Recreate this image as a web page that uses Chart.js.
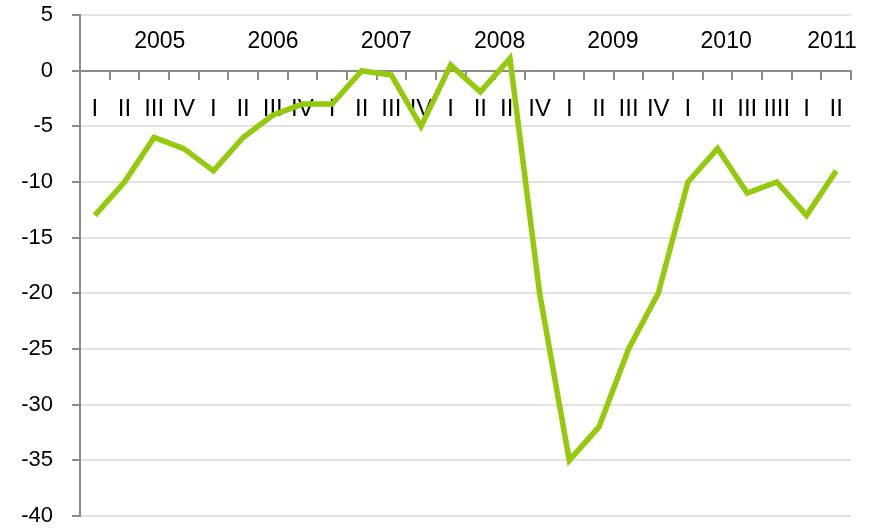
<!DOCTYPE html>
<html>
<head>
<meta charset="utf-8">
<style>
  html, body { margin: 0; padding: 0; background: #fff; }
  #wrap { width: 873px; height: 528px; }
</style>
<script src="https://cdn.jsdelivr.net/npm/chart.js@4/dist/chart.umd.min.js"></script>
</head>
<body>
<div id="wrap"><canvas id="chart"></canvas></div>
<script>
// Quarter labels (2010 Q4 is spelled "IIII" in the original)
const quarters = [
  'I', 'II', 'III', 'IV',
  'I', 'II', 'III', 'IV',
  'I', 'II', 'III', 'IV',
  'I', 'II', 'III', 'IV',
  'I', 'II', 'III', 'IV',
  'I', 'II', 'III', 'IIII',
  'I', 'II'
];
const years = ['2005', '2006', '2007', '2008', '2009', '2010', '2011'];
const values = [
  -13, -10, -6, -7,
  -9, -6, -4, -3,
  -3, 0, -0.4, -5,
  0.5, -1.9, 1.1, -20,
  -35, -32, -25, -20,
  -10, -7, -11, -10,
  -13, -9
];
const yTicks = [5, 0, -5, -10, -15, -20, -25, -30, -35, -40];

const FONT = 'Liberation Sans, Arial, sans-serif';

// Year captions sit above the axis line, a bit right of each year's block
const yearLabels = {
  id: 'yearLabels',
  afterDatasetsDraw(chart) {
    const { ctx, scales: { x, y } } = chart;
    const start = 2.19, step = 3.82;
    ctx.save();
    ctx.font = '23px ' + FONT;
    ctx.fillStyle = '#000';
    ctx.textAlign = 'center';
    ctx.textBaseline = 'middle';
    years.forEach((yr, i) => {
      let pos = start + step * i;
      if (i === years.length - 1) pos = 24.86;
      ctx.fillText(yr, x.getPixelForValue(pos), y.getPixelForValue(2.62));
    });
    ctx.restore();
  }
};

new Chart(document.getElementById('chart'), {
  type: 'line',
  data: {
    labels: quarters,
    datasets: [{
      data: values,
      borderColor: '#93ca0c',
      borderWidth: 5.5,
      pointRadius: 0,
      tension: 0,
      fill: false
    }]
  },
  options: {
    responsive: true,
    maintainAspectRatio: false,
    animation: false,
    layout: { padding: { top: 15, right: 22, bottom: 12, left: 0 } },
    plugins: { legend: { display: false }, tooltip: { enabled: false } },
    scales: {
      x: {
        type: 'category',
        offset: true,
        position: { y: 0 },
        afterFit: s => { s.paddingLeft = 0; s.paddingRight = 0; },
        grid: {
          offset: true,
          drawOnChartArea: false,
          drawTicks: true,
          tickLength: 8,
          tickColor: '#8c8c8c',
          lineWidth: 2
        },
        border: { display: true, color: '#8c8c8c', width: 2 },
        ticks: {
          autoSkip: false,
          maxRotation: 0,
          padding: 16,
          color: '#000',
          font: { family: FONT, size: 24 }
        }
      },
      y: {
        min: -40,
        max: 5,
        afterBuildTicks: s => { s.ticks = yTicks.map(v => ({ value: v })); },
        afterFit: s => { s.width = 80; s.paddingTop = 0; s.paddingBottom = 0; },
        grid: {
          color: '#e2e2e2',
          lineWidth: 2,
          tickLength: 8,
          tickColor: '#8c8c8c'
        },
        border: { display: true, color: '#8c8c8c', width: 2 },
        ticks: {
          padding: 19,
          color: '#000',
          font: { family: FONT, size: 22 }
        }
      }
    }
  },
  plugins: [yearLabels]
});
</script>
</body>
</html>
